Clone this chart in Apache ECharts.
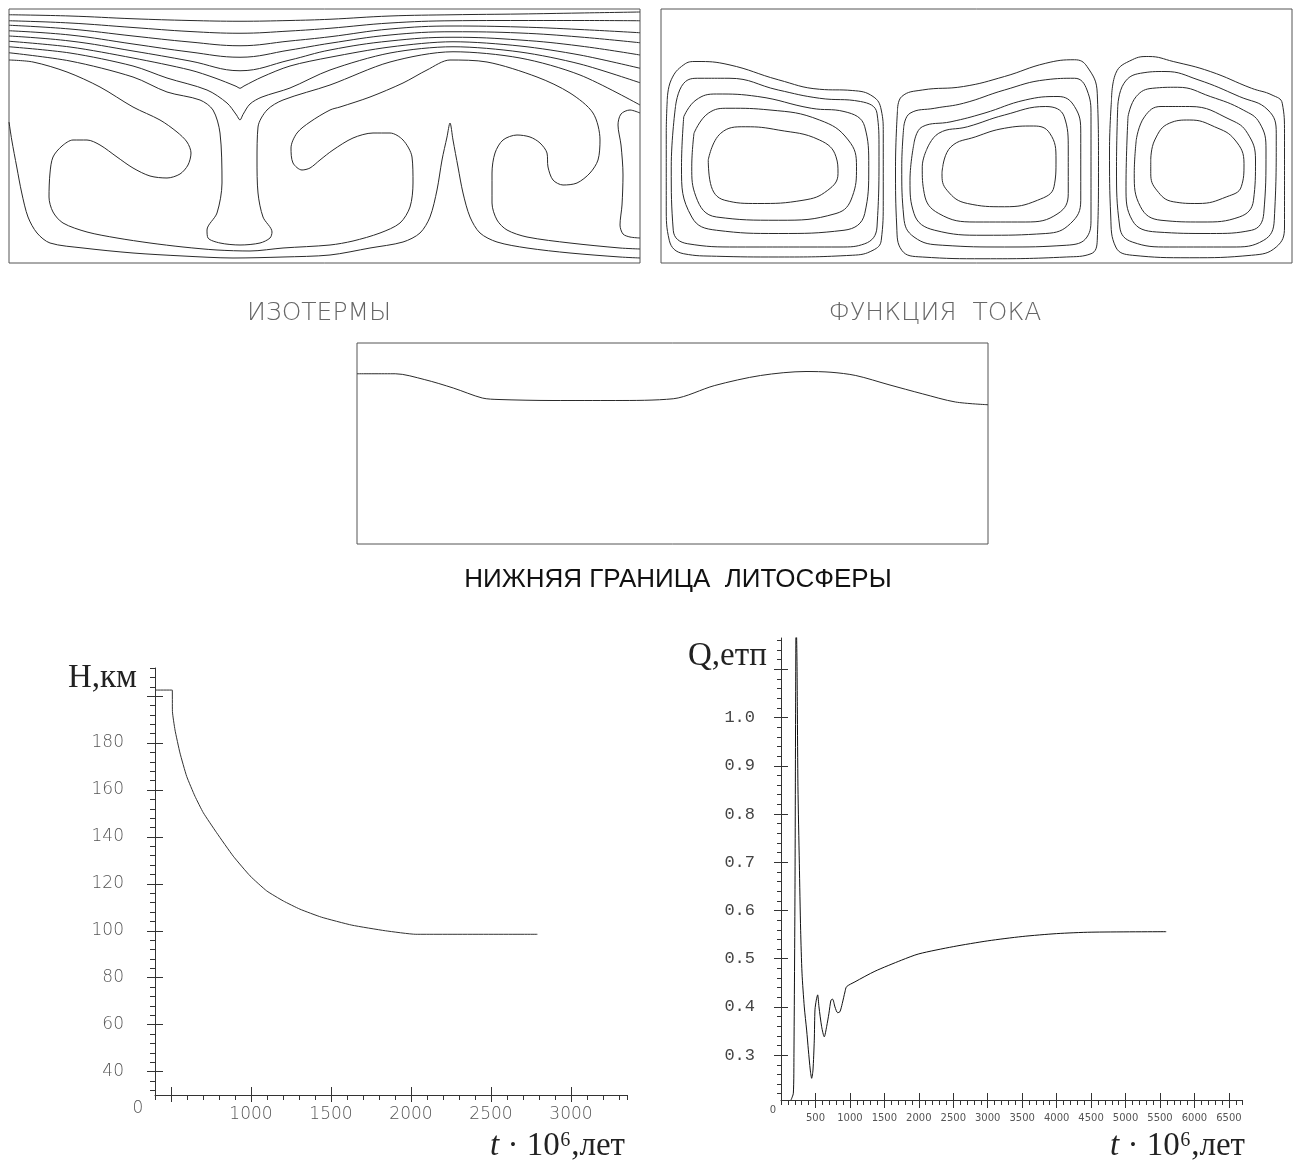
<!DOCTYPE html>
<html><head><meta charset="utf-8">
<script src="https://cdn.jsdelivr.net/npm/echarts@6/dist/echarts.min.js"></script>
<style>html,body{margin:0;padding:0;background:#fff}#c{width:1298px;height:1163px}</style>
</head><body><div id="c"></div>
<script>
// ---- domain sizes (relative model units) ----
const DOM_W = 252.4;   // width of the convection box
const DOM_D = 101.6;   // depth of the convection box
const LITH_D = 80.4;   // depth range of lithosphere panel

// ---- isotherms: stratified upper lines (shared x) ----
const isoX = [0, 24.4, 49.6, 72.4, 92.4, 112.4, 128.4, 152.4, 177.6, 204.4, 228.4, 252.4];
const iso1 = [2.3, 2.8, 3.9, 4.6, 4.9, 4.6, 4.1, 2.8, 2.3, 2.0, 1.6, 1.2];
const iso2 = [4.7, 5.6, 7.4, 9.0, 9.7, 8.8, 7.7, 5.6, 4.7, 4.6, 4.6, 4.7];
const iso3 = [6.5, 8.0, 10.8, 13.2, 14.7, 12.8, 11.1, 8.0, 6.8, 7.2, 8.2, 9.5];
const iso4 = [8.7, 10.4, 14.0, 17.2, 19.3, 16.4, 13.7, 10.4, 9.1, 9.6, 11.2, 13.5];
const iso5 = [10.8, 12.8, 16.8, 20.8, 24.7, 20.4, 16.4, 12.8, 11.3, 12.4, 14.8, 18.4];
const iso6 = [[0,12.9],[24.4,15.2],[49.6,19.6],[72.4,24.4],[82.4,27.6],[90.8,30.9],[92.4,31.7],[94.0,30.8],[101.2,27.2],[112.4,22.8],[128.4,19.3],[152.4,15.2],[177.6,13.1],[204.4,14.8],[228.4,18.4],[252.4,23.7]];
const iso7 = [[0,15.1],[24.4,17.6],[49.6,22.8],[63.2,27.6],[79.2,32.4],[87.2,37.6],[91.0,42.4],[92.4,44.4],[93.6,42.2],[96.4,38.0],[101.2,35.2],[112.4,31.6],[128.4,24.4],[152.4,17.6],[177.6,15.1],[204.4,17.2],[228.4,22.0],[252.4,29.5]];
const iso8 = [[0,17.5],[24.4,20.8],[49.6,27.2],[63.2,33.2],[76.4,36.4],[81.6,40.4],[84.4,49.6],[85.2,69.6],[83.2,81.6],[79.2,88.4],[79.6,91.6],[84.4,93.6],[92.4,94.4],[100.4,93.6],[104.4,91.6],[105.2,89.2],[101.6,83.2],[99.6,73.6],[99.2,60.4],[99.6,47.2],[103.2,40.4],[109.6,36.4],[128.4,30.4],[152.4,21.2],[177.6,17.1],[204.4,19.6],[228.4,26.4],[252.4,38.4]];
const isoLobes = [[0,20.4],[9.6,21.2],[23.2,25.2],[36.4,31.2],[49.6,39.2],[60.4,44.4],[67.2,49.2],[71.2,53.2],[72.8,57.6],[71.6,62.4],[68.4,66.0],[63.2,67.6],[56.4,66.8],[49.6,63.6],[43.2,59.2],[36.4,54.4],[31.2,52.4],[25.6,52.4],[21.2,54.8],[17.6,59.2],[16.4,65.6],[16.0,75.2],[17.6,81.2],[21.6,85.6],[31.2,89.2],[43.2,91.6],[56.4,93.6],[69.6,95.2],[83.2,96.4],[96.4,96.8],[109.6,95.6],[128.4,94.4],[137.6,92.8],[148.4,89.6],[156.4,85.6],[160.4,79.2],[161.6,69.6],[161.2,59.2],[157.6,52.4],[152.4,49.6],[145.6,49.6],[137.6,51.6],[129.6,56.4],[124.4,60.4],[120.4,63.6],[117.2,64.4],[113.6,61.6],[112.8,55.6],[115.2,49.6],[120.4,45.2],[128.4,40.4],[132.4,39.2],[144.4,35.2],[157.6,29.6],[167.2,24.4],[176.4,20.4],[191.2,21.2],[211.2,27.2],[224.4,33.6],[233.6,41.6],[236.4,52.4],[235.6,60.4],[232.4,65.6],[227.2,69.6],[221.6,70.4],[217.6,68.4],[215.6,63.2],[215.2,57.6],[212.4,53.6],[208.4,51.2],[203.2,50.4],[197.6,52.4],[194.4,57.6],[193.2,65.6],[193.2,77.6],[195.2,84.4],[199.2,88.4],[207.2,91.2],[224.4,93.6],[244.4,95.6],[252.4,96.0]];
const isoPlume = [[0,45.2],[1.1,52.4],[3.1,63.2],[5.1,73.6],[7.6,83.2],[11.2,89.6],[16.4,93.6],[29.6,95.6],[49.6,97.6],[69.6,98.8],[89.6,99.6],[109.6,99.2],[128.4,98.4],[144.4,95.6],[157.6,93.2],[164.4,89.6],[168.4,83.2],[171.2,72.4],[173.2,60.4],[175.2,51.2],[176.4,45.6],[177.6,52.4],[179.6,63.2],[181.6,73.6],[184.4,83.2],[188.4,89.6],[195.2,93.2],[207.2,95.6],[224.4,97.6],[244.4,99.2],[252.4,99.6]];
const isoWall = [[252.4,41.6],[248.4,40.4],[244.8,42.0],[243.6,46.4],[244.8,54.4],[245.6,66.4],[245.2,78.4],[244.4,86.4],[245.6,90.0],[248.4,91.2],[252.4,91.6]];

// ---- stream function: three cells, five closed contours each ----
const psiCell1 = [
 [[2.5,36.4],[4.1,28.3],[9.1,22.3],[14.0,21.0],[27.2,22.3],[46.9,28.3],[63.4,32.1],[76.5,32.6],[84.8,35.0],[88.1,40.4],[88.9,49.7],[88.9,76.5],[88.1,92.5],[84.8,96.5],[76.5,98.5],[46.9,99.2],[22.2,98.9],[9.1,97.9],[3.3,92.5],[2.1,79.1],[2.1,49.7],[2.5,36.4]],
 [[5.8,39.0],[9.1,29.7],[15.6,27.7],[27.2,27.7],[46.9,32.4],[63.4,35.7],[79.8,37.0],[86.4,41.7],[87.2,56.4],[86.4,87.2],[81.5,93.9],[71.6,95.2],[30.5,95.2],[10.7,93.9],[4.9,88.5],[4.1,63.1],[5.8,39.0]],
 [[9.1,43.1],[14.0,36.4],[22.2,34.0],[38.7,35.0],[60.1,39.7],[73.2,41.0],[81.5,47.1],[83.1,63.1],[81.5,81.8],[73.2,88.5],[46.9,89.8],[22.2,88.5],[12.3,83.2],[8.2,63.1],[9.1,43.1]],
 [[13.2,49.7],[18.9,41.7],[27.2,39.7],[43.6,40.4],[63.4,44.4],[74.9,52.4],[78.2,63.1],[76.5,75.1],[70.0,81.8],[46.9,84.5],[22.2,83.2],[14.0,75.1],[12.3,63.1],[13.2,49.7]],
 [[18.9,60.4],[23.9,49.7],[33.7,47.1],[46.9,48.4],[63.4,52.4],[70.0,59.1],[70.8,65.8],[66.7,72.5],[56.8,76.5],[38.7,77.8],[25.5,76.5],[19.8,69.8],[18.9,60.4]]
];
const psiCell2 = [
 [[94.6,40.4],[96.3,35.0],[104.5,32.4],[121.0,31.0],[137.4,27.0],[153.9,21.7],[165.4,20.3],[170.4,23.0],[174.5,33.7],[175.0,63.1],[174.5,92.5],[172.0,97.9],[162.1,99.2],[129.2,99.9],[104.5,99.2],[96.3,96.5],[94.3,87.2],[93.8,63.1],[94.6,40.4]],
 [[97.1,47.1],[99.6,41.7],[109.5,39.7],[121.0,37.7],[137.4,32.4],[153.9,28.3],[165.4,27.7],[170.4,32.4],[172.0,43.1],[172.0,83.2],[170.4,91.2],[162.1,94.5],[137.4,95.2],[112.7,94.5],[101.2,91.2],[97.1,83.2],[96.3,63.1],[97.1,47.1]],
 [[101.2,53.7],[104.5,47.1],[116.0,45.1],[129.2,41.7],[145.7,36.4],[158.8,35.0],[165.4,39.0],[167.9,49.7],[167.9,76.5],[163.8,85.8],[153.9,89.8],[129.2,90.5],[109.5,88.5],[101.2,81.8],[99.6,68.5],[101.2,53.7]],
 [[106.2,56.4],[111.1,49.7],[122.6,47.1],[137.4,42.4],[153.9,39.0],[161.3,43.1],[162.9,56.4],[162.9,73.8],[158.8,81.8],[145.7,85.2],[125.9,85.2],[111.1,81.8],[105.3,73.8],[104.5,63.1],[106.2,56.4]],
 [[112.7,63.1],[116.0,55.1],[125.9,51.1],[137.4,47.7],[149.0,46.8],[155.5,49.7],[158.0,60.4],[157.2,71.1],[150.6,76.5],[137.4,79.1],[122.6,77.8],[114.4,72.5],[112.4,65.8],[112.7,63.1]]
];
const psiCell3 = [
 [[180.2,36.4],[181.9,25.7],[188.5,20.3],[195.1,19.0],[204.9,21.0],[219.7,25.0],[236.2,31.7],[244.4,34.4],[248.5,37.7],[249.4,49.7],[249.4,87.2],[246.1,95.2],[236.2,98.5],[211.5,99.5],[188.5,98.5],[181.9,95.2],[179.9,83.2],[179.4,56.4],[180.2,36.4]],
 [[182.7,39.0],[185.2,29.7],[191.8,25.7],[201.6,25.0],[214.8,28.3],[231.3,35.0],[242.8,40.4],[246.1,49.7],[245.3,84.5],[241.1,92.5],[228.0,95.2],[203.3,95.2],[188.5,93.2],[183.5,87.2],[182.2,63.1],[182.7,39.0]],
 [[186.8,43.1],[190.1,35.0],[196.7,31.7],[206.6,31.3],[219.7,35.0],[232.9,40.4],[239.5,45.7],[242.0,56.4],[241.1,81.8],[236.2,88.5],[219.7,89.8],[198.3,89.2],[188.5,84.5],[186.0,71.1],[186.8,43.1]],
 [[190.1,52.4],[193.4,43.1],[200.0,39.0],[211.5,39.0],[228.0,44.4],[234.6,49.7],[237.8,60.4],[237.0,76.5],[231.3,83.2],[216.4,85.2],[200.0,84.5],[191.8,79.1],[189.3,65.8],[190.1,52.4]],
 [[195.9,60.4],[197.5,52.4],[203.3,45.7],[211.5,44.4],[221.4,47.1],[229.6,52.4],[233.2,61.8],[232.1,71.1],[226.3,75.1],[214.8,77.8],[204.9,77.1],[198.3,72.5],[195.9,65.8],[195.9,60.4]]
];

// ---- lower boundary of the lithosphere ----
const lithoX = [0, 15.3, 26.9, 38.5, 50.1, 56.8, 78.4, 103.3, 126.5, 143.1, 161.4, 179.6, 189.6, 199.5, 212.8, 226.1, 239.4, 252.4];
const lithoZ = [12.3, 12.3, 14.6, 18.0, 22.0, 22.6, 23.0, 23.0, 22.3, 17.0, 13.0, 11.4, 11.7, 13.0, 16.7, 20.3, 23.6, 24.7];

// ---- H(t): lithosphere thickness, km ----
const hT = [400, 508, 509, 525, 556, 598, 650, 702, 785, 889, 994, 1098, 1202, 1306, 1440, 1630, 1840, 2030, 2790];
const hVal = [202.6, 202.6, 193.4, 185.6, 175.8, 165.8, 157.3, 150.3, 141.8, 131.8, 123.4, 117.0, 112.7, 109.2, 105.8, 102.4, 100.0, 98.5, 98.5];
const hMajorTicks = [40, 60, 80, 100, 120, 140, 160, 180, 200];
const hTickLabels = [40, 60, 80, 100, 120, 140, 160, 180];
const hTimeMajor = [500, 1000, 1500, 2000, 2500, 3000];
const hTimeLabels = [1000, 1500, 2000, 2500, 3000];

// ---- Q(t): heat flow ----
const qT = [145, 179, 188, 203, 220, 232, 237, 246, 266, 285, 305, 338, 372, 397, 425, 445, 464, 483, 493, 512, 532, 551, 590, 628, 662, 696, 725, 749, 783, 822, 855, 889, 928, 952, 1073, 1363, 1750, 2000, 2500, 3000, 3500, 4000, 4500, 5590];
const qVal = [0.207, 0.221, 0.304, 0.643, 1.22, 1.116, 1.023, 0.857, 0.698, 0.559, 0.470, 0.400, 0.352, 0.311, 0.269, 0.252, 0.269, 0.331, 0.394, 0.414, 0.425, 0.400, 0.359, 0.338, 0.359, 0.387, 0.414, 0.416, 0.400, 0.388, 0.390, 0.407, 0.431, 0.442, 0.452, 0.474, 0.497, 0.510, 0.525, 0.537, 0.546, 0.552, 0.555, 0.556];
const qMajorTicks = [0.3, 0.4, 0.5, 0.6, 0.7, 0.8, 0.9, 1.0, 1.1];
const qTickLabels = [0.3, 0.4, 0.5, 0.6, 0.7, 0.8, 0.9, 1.0];
const qTimeMajor = [500, 1000, 1500, 2000, 2500, 3000, 3500, 4000, 4500, 5000, 5500, 6000, 6500];

// minor tick positions
const hMinor = []; for (let v = 32; v <= 212; v += 4) hMinor.push(v);
const qMinor = []; for (let i = 11; i <= 58; i++) qMinor.push(+(i * 0.02).toFixed(2));

const AX = '#333';
const LINE = '#2a2a2a';
const TICKFONT = {fontFamily: 'DejaVu Sans', fontWeight: 200, color: '#555'};
const plain = v => String(Math.round(v));

function xAx(grid, min, max, o) {
  return Object.assign({type: 'value', gridIndex: grid, min: min, max: max, position: 'bottom', offset: 0,
    axisLine: {show: false, onZero: false}, axisTick: {show: false}, axisLabel: {show: false}, splitLine: {show: false}}, o || {});
}
function yAx(grid, min, max, o) {
  return Object.assign({type: 'value', gridIndex: grid, min: min, max: max, position: 'left', offset: 0,
    axisLine: {show: false, onZero: false}, axisTick: {show: false}, axisLabel: {show: false}, splitLine: {show: false}}, o || {});
}
function ln(data, xi, yi, smooth, color) {
  return {type: 'line', xAxisIndex: xi, yAxisIndex: yi, data: data, showSymbol: false, symbol: 'none',
    smooth: smooth, silent: true, animation: false,
    lineStyle: {color: color || LINE, width: 1}};
}
const zip = (xs, ys) => xs.map((x, i) => [x, ys[i]]);

const series = [];
[iso1, iso2, iso3, iso4, iso5].forEach(a => series.push(ln(zip(isoX, a), 0, 0, 0.4)));
[iso6, iso7, iso8, isoLobes, isoPlume, isoWall].forEach(a => series.push(ln(a, 0, 0, 0.3)));
[].concat(psiCell1, psiCell2, psiCell3).forEach(a => series.push(ln(a, 1, 1, 0.45)));
series.push(ln(zip(lithoX, lithoZ), 2, 2, 0.3));
series.push(ln(zip(hT, hVal), 3, 3, 0.15, '#333'));
series.push(ln(zip(qT, qVal), 6, 6, 0.25, '#111'));

const gridBox = {show: true, borderColor: '#555', borderWidth: 1, backgroundColor: 'transparent'};

const option = {
  animation: false,
  backgroundColor: '#fff',
  grid: [
    Object.assign({left: 9, top: 9, width: 631, height: 254}, gridBox),
    Object.assign({left: 661, top: 9, width: 631, height: 254}, gridBox),
    Object.assign({left: 357, top: 343, width: 631, height: 201}, gridBox),
    {left: 155, top: 668, width: 472, height: 427},
    {left: 781, top: 638, width: 461, height: 462}
  ],
  xAxis: [
    xAx(0, 0, DOM_W, {show: false}),
    xAx(1, 0, DOM_W, {show: false}),
    xAx(2, 0, DOM_W, {show: false}),
    // H chart
    xAx(3, 400, 3350, {interval: 100,
      axisLine: {show: true, onZero: false, lineStyle: {color: AX, width: 1}},
      axisTick: {show: true, inside: false, length: 5, lineStyle: {color: AX}}}),
    xAx(3, 400, 3350, {
      axisTick: {show: true, inside: false, length: 7, customValues: hTimeMajor, lineStyle: {color: AX}},
      axisLabel: Object.assign({show: true, customValues: hTimeLabels, margin: 11, fontSize: 17, formatter: plain}, TICKFONT)}),
    xAx(3, 400, 3350, {
      axisTick: {show: true, inside: true, length: 8, customValues: hTimeMajor, lineStyle: {color: AX}}}),
    // Q chart
    xAx(4, 0, 6690, {interval: 100,
      axisLine: {show: true, onZero: false, lineStyle: {color: AX, width: 1}},
      axisTick: {show: true, inside: false, length: 5, lineStyle: {color: AX}}}),
    xAx(4, 0, 6690, {
      axisTick: {show: true, inside: false, length: 8, customValues: qTimeMajor, lineStyle: {color: AX}},
      axisLabel: {show: true, customValues: qTimeMajor, margin: 13, fontSize: 10, fontFamily: 'DejaVu Sans', color: '#555', formatter: plain}}),
    xAx(4, 0, 6690, {
      axisTick: {show: true, inside: true, length: 7, customValues: qTimeMajor, lineStyle: {color: AX}}})
  ],
  yAxis: [
    yAx(0, 0, DOM_D, {show: false, inverse: true}),
    yAx(1, 0, DOM_D, {show: false, inverse: true}),
    yAx(2, 0, LITH_D, {show: false, inverse: true}),
    // H chart
    yAx(3, 30, 212, {
      axisLine: {show: true, onZero: false, lineStyle: {color: AX, width: 1}},
      axisTick: {show: true, inside: false, length: 5, customValues: hMinor, lineStyle: {color: AX}}}),
    yAx(3, 30, 212, {
      axisTick: {show: true, inside: false, length: 8, customValues: hMajorTicks, lineStyle: {color: AX}},
      axisLabel: Object.assign({show: true, customValues: hTickLabels, margin: 31, fontSize: 17, formatter: plain}, TICKFONT)}),
    yAx(3, 30, 212, {
      axisTick: {show: true, inside: true, length: 8, customValues: hMajorTicks, lineStyle: {color: AX}}}),
    // Q chart
    yAx(4, 0.207, 1.165, {
      axisLine: {show: true, onZero: false, lineStyle: {color: AX, width: 1}},
      axisTick: {show: true, inside: false, length: 4, customValues: qMinor, lineStyle: {color: AX}}}),
    yAx(4, 0.207, 1.165, {
      axisTick: {show: true, inside: false, length: 7, customValues: qMajorTicks, lineStyle: {color: AX}},
      axisLabel: {show: true, customValues: qTickLabels, margin: 26, fontSize: 17, fontFamily: 'Liberation Mono', color: '#444',
        formatter: v => (+v).toFixed(1)}}),
    yAx(4, 0.207, 1.165, {
      axisTick: {show: true, inside: true, length: 7, customValues: qMajorTicks, lineStyle: {color: AX}}})
  ],
  graphic: [
    {type: 'text', x: 319, y: 313, silent: true, style: {text: 'ИЗОТЕРМЫ', fill: '#666', fontFamily: 'DejaVu Sans', fontWeight: 200, fontSize: 25, align: 'center', verticalAlign: 'middle', textAlign: 'center', textVerticalAlign: 'middle'}},
    {type: 'text', x: 935, y: 313, silent: true, style: {text: 'ФУНКЦИЯ  ТОКА', fill: '#666', fontFamily: 'DejaVu Sans', fontWeight: 200, fontSize: 25, align: 'center', verticalAlign: 'middle', textAlign: 'center', textVerticalAlign: 'middle'}},
    {type: 'text', x: 678, y: 580, silent: true, style: {text: 'НИЖНЯЯ ГРАНИЦА  ЛИТОСФЕРЫ', fill: '#111', fontFamily: 'Liberation Sans', fontSize: 26, align: 'center', verticalAlign: 'middle', textAlign: 'center', textVerticalAlign: 'middle'}},
    {type: 'text', x: 68, y: 678, silent: true, style: {text: 'H,км', fill: '#222', fontFamily: 'Liberation Serif', fontSize: 33, align: 'left', verticalAlign: 'middle', textAlign: 'left', textVerticalAlign: 'middle'}},
    {type: 'text', x: 688, y: 656, silent: true, style: {text: 'Q,етп', fill: '#222', fontFamily: 'Liberation Serif', fontSize: 33, align: 'left', verticalAlign: 'middle', textAlign: 'left', textVerticalAlign: 'middle'}},
    {type: 'text', x: 625, y: 1146, silent: true, style: {text: '{i|t} · 10⁶,лет', fill: '#222', fontFamily: 'Liberation Serif', fontSize: 33, align: 'right', verticalAlign: 'middle', textAlign: 'right', textVerticalAlign: 'middle',
      rich: {i: {fontStyle: 'italic', fontFamily: 'Liberation Serif', fontSize: 33, fill: '#222'}}}},
    {type: 'text', x: 1245, y: 1146, silent: true, style: {text: '{i|t} · 10⁶,лет', fill: '#222', fontFamily: 'Liberation Serif', fontSize: 33, align: 'right', verticalAlign: 'middle', textAlign: 'right', textVerticalAlign: 'middle',
      rich: {i: {fontStyle: 'italic', fontFamily: 'Liberation Serif', fontSize: 33, fill: '#222'}}}},
    {type: 'text', x: 138, y: 1109, silent: true, style: {text: '0', fill: '#555', fontFamily: 'DejaVu Sans', fontWeight: 200, fontSize: 17, align: 'center', verticalAlign: 'middle', textAlign: 'center', textVerticalAlign: 'middle'}},
    {type: 'text', x: 773, y: 1110, silent: true, style: {text: '0', fill: '#555', fontFamily: 'DejaVu Sans', fontSize: 10, align: 'center', verticalAlign: 'middle', textAlign: 'center', textVerticalAlign: 'middle'}}
  ],
  series: series
};

const chart = echarts.init(document.getElementById('c'), null, {renderer: 'canvas'});
chart.setOption(option);
</script></body></html>
